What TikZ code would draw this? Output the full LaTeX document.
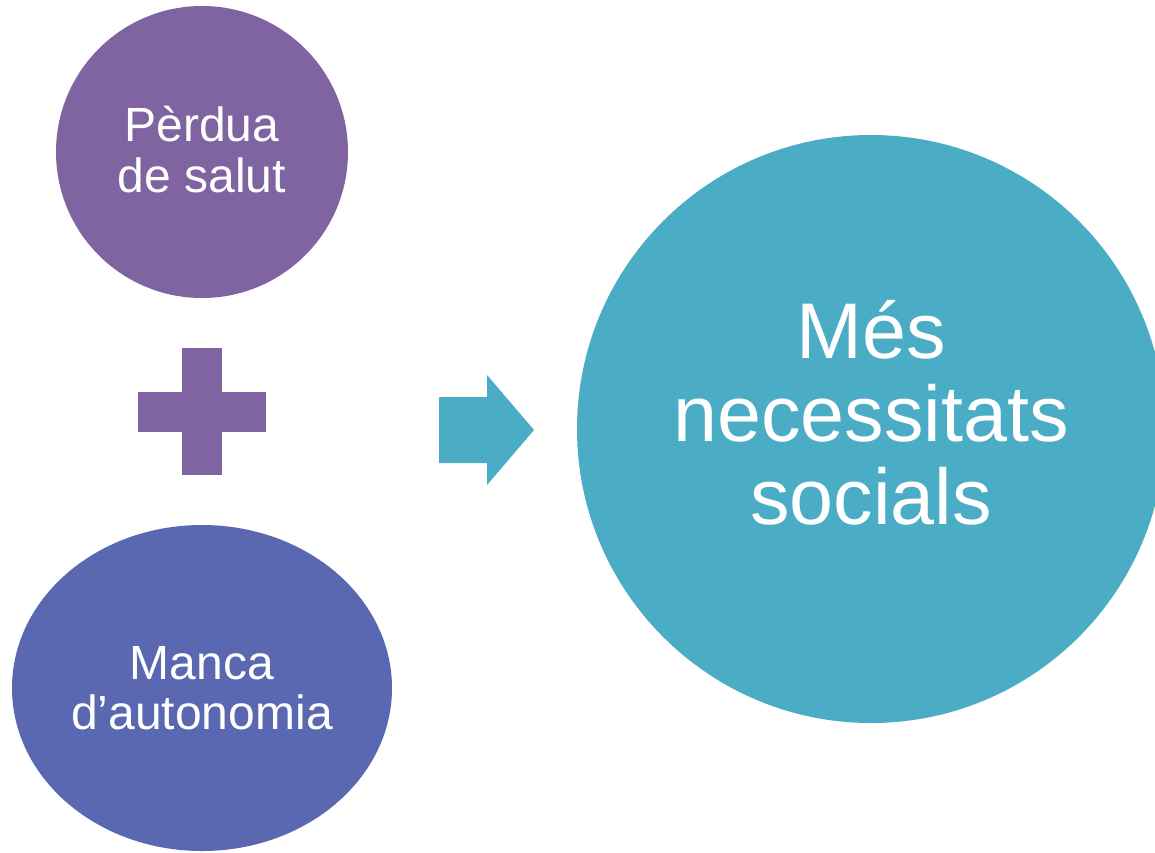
\documentclass[tikz,border=0pt]{standalone}
\usepackage{fontspec}
\setmainfont{Liberation Sans}
\usepackage{tikz}
\usetikzlibrary{positioning}

\definecolor{perduaviolet}{HTML}{8064A2}
\definecolor{mancablue}{HTML}{5A68B2}
\definecolor{socialsteal}{HTML}{4BACC6}

\tikzset{
  bubbletext/.style={align=center, text=white, inner sep=0pt},
}

\begin{document}
\begin{tikzpicture}[x=1pt, y=-1pt]
  \useasboundingbox (0,0) rectangle (1155,852);

  % the three bubbles
  \fill[perduaviolet] (202,152) circle (146);
  \fill[mancablue] (202,688) ellipse (190 and 163);
  \fill[socialsteal] (871,429) circle (294);

  % plus sign
  \fill[perduaviolet] (138,392) rectangle (266,432);
  \fill[perduaviolet] (182,348) rectangle (222,475);

  % arrow
  \fill[socialsteal] (439,397) -- (487,397) -- (487,375) -- (534,430)
    -- (487,485) -- (487,463) -- (439,463) -- cycle;

  \node[bubbletext, font=\fontsize{48}{51}\selectfont] (salut) at (202,150) {%
    Pèrdua\\de salut};
  \node[bubbletext, font=\fontsize{48}{50}\selectfont] (autonomia) at (202,688) {%
    Manca\\d’autonomia};
  \node[bubbletext, font=\fontsize{79}{83}\selectfont] (necessitats) at (871,413) {%
    Més\\necessitats\\socials};
\end{tikzpicture}
\end{document}
